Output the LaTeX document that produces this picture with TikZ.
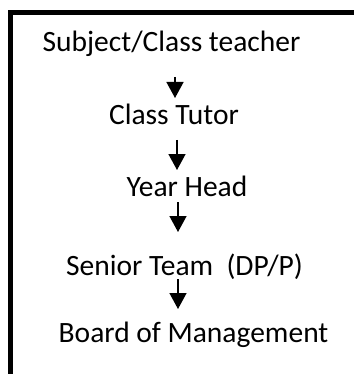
\documentclass[tikz,border=0pt]{standalone}
\usepackage{fontspec}
\setmainfont{Carlito}
\usetikzlibrary{arrows.meta}
\begin{document}
\begin{tikzpicture}[x=1pt,y=-1pt,
  label text/.style={anchor=base,inner sep=0pt,font=\fontsize{29.5}{34}\selectfont},
  flow arrow/.style={line width=1.5pt,-{Triangle[width=17pt,length=16pt]}}]
\useasboundingbox (0,0) rectangle (353,374);
% open frame, running off the right and bottom edges
\draw[line width=4.5pt] (10.5,380) -- (10.5,12.5) -- (360,12.5);
% chain of escalation
\node[label text] (subj) at (171.5,52) {Subject/Class teacher};
\node[label text] (tutor) at (174,125) {Class Tutor};
\node[label text] (head) at (187,196) {Year Head};
\node[label text] (senior) at (184.5,275) {Senior Team\ \ (DP/P)};
\node[label text] (board) at (193.5,342) {Board of Management};
% arrow end points
\coordinate (a1s) at (175,77);  \coordinate (a1e) at (175,98);
\coordinate (a2s) at (177,140); \coordinate (a2e) at (177,170);
\coordinate (a3s) at (178,202); \coordinate (a3e) at (178,232);
\coordinate (a4s) at (178,279); \coordinate (a4e) at (178,309);
\draw[flow arrow] (a1s) -- (a1e);
\draw[flow arrow] (a2s) -- (a2e);
\draw[flow arrow] (a3s) -- (a3e);
\draw[flow arrow] (a4s) -- (a4e);
\end{tikzpicture}
\end{document}
